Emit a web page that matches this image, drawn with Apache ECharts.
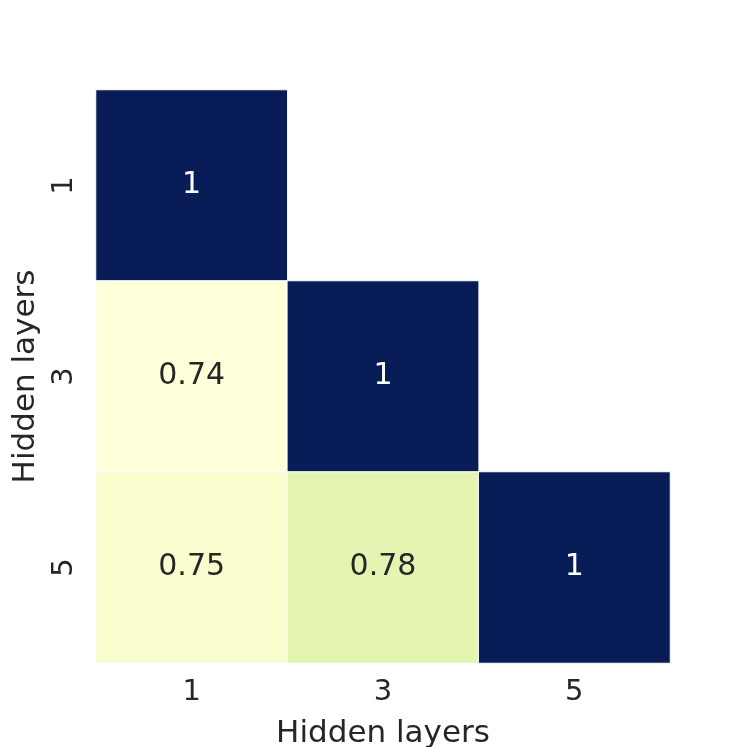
<!DOCTYPE html>
<html>
<head>
<meta charset="utf-8">
<script src="https://cdn.jsdelivr.net/npm/echarts@6/dist/echarts.min.js"></script>
<style>
  html, body { margin: 0; padding: 0; background: #fff; }
  #chart { width: 747px; height: 747px; }
</style>
</head>
<body>
<div id="chart"></div>
<script>
// layer counts on both axes
var layers = ['1', '3', '5'];
// lower triangle of the similarity matrix: [col, row, value]
var cells = [
  [0, 0, 1],
  [0, 1, 0.74], [1, 1, 1],
  [0, 2, 0.75], [1, 2, 0.78], [2, 2, 1]
];
// YlGnBu colour ramp
var ylGnBu = ['#ffffd9', '#edf8b1', '#c7e9b4', '#7fcdbb', '#41b6c4',
              '#1d91c0', '#225ea8', '#253494', '#081d58'];

var myChart = echarts.init(document.getElementById('chart'));
var font = 'DejaVu Sans';

var option = {
  animation: false,
  grid: { left: 96, top: 90, width: 574, height: 573, outerBoundsMode: 'none' },
  xAxis: {
    type: 'category',
    data: layers,
    name: 'Hidden layers',
    nameLocation: 'middle',
    nameGap: 55,
    nameTextStyle: { fontFamily: font, fontSize: 31, color: '#262626' },
    axisLine: { show: false },
    axisTick: { show: false },
    splitLine: { show: false },
    axisLabel: { fontFamily: font, fontSize: 29, color: '#262626', margin: 15 }
  },
  yAxis: {
    type: 'category',
    data: layers,
    inverse: true,
    name: 'Hidden layers',
    nameLocation: 'middle',
    nameGap: 55,
    nameRotate: 90,
    nameTextStyle: { fontFamily: font, fontSize: 31, color: '#262626' },
    axisLine: { show: false },
    axisTick: { show: false },
    splitLine: { show: false },
    axisLabel: { fontFamily: font, fontSize: 29, color: '#262626', rotate: 90, margin: 17 }
  },
  visualMap: {
    show: false,
    min: 0.74,
    max: 1,
    dimension: 2,
    inRange: { color: ylGnBu }
  },
  series: [{
    type: 'heatmap',
    // white text on the dark cells, like the original
    data: cells.map(function (c) {
      return { value: c, label: { color: c[2] > 0.9 ? '#ffffff' : '#262626' } };
    }),
    itemStyle: { borderColor: '#fff', borderWidth: 1 },
    label: {
      show: true,
      fontFamily: font,
      fontSize: 30,
      formatter: function (p) { return String(p.value[2]); }
    },
    emphasis: { disabled: true }
  }]
};

myChart.setOption(option);
</script>
</body>
</html>
